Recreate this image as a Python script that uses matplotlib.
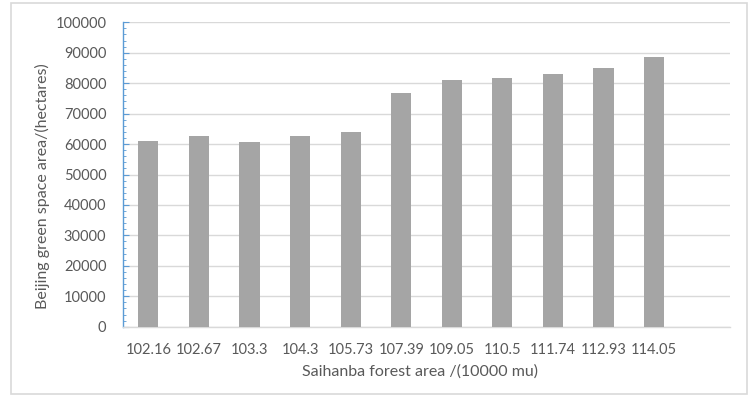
import matplotlib
matplotlib.use("Agg")
import matplotlib.pyplot as plt
from matplotlib.patches import Rectangle
from matplotlib.ticker import MultipleLocator

# Saihanba forest area (10000 mu) vs Beijing green space area (hectares)
forest_area = ["102.16", "102.67", "103.3", "104.3", "105.73", "107.39",
               "109.05", "110.5", "111.74", "112.93", "114.05"]
green_space = [61100, 62550, 60800, 62550, 63850, 76900,
               80950, 81800, 83100, 84900, 88500]
y_ticks = [0, 10000, 20000, 30000, 40000, 50000, 60000, 70000, 80000, 90000, 100000]

plt.rcParams["font.family"] = ["Lato", "DejaVu Sans"]
text_color = "#595959"

fig = plt.figure(figsize=(7.49, 3.96), dpi=100)
fig.patches.append(Rectangle((11 / 749, 2 / 396), 736 / 749, 391 / 396,
                             transform=fig.transFigure, fill=False,
                             edgecolor="#d9d9d9", linewidth=1.2))

ax = fig.add_axes([123 / 749, (396 - 326.7) / 396, 607 / 749, 304.4 / 396])
x = list(range(len(forest_area)))
ax.bar(x, green_space, width=0.40, color="#a5a5a5", zorder=3)

ax.set_xlim(-0.5, 11.5)
ax.set_ylim(0, 100000)
ax.set_xticks(x)
ax.set_xticklabels(forest_area)
ax.set_yticks(y_ticks)
ax.set_yticklabels([str(v) for v in y_ticks])
ax.yaxis.set_minor_locator(MultipleLocator(2000))

ax.grid(axis="y", color="#d9d9d9", linewidth=1.0, zorder=0)
for side in ("top", "right"):
    ax.spines[side].set_visible(False)
ax.spines["bottom"].set_color("#d9d9d9")
ax.spines["bottom"].set_linewidth(1.0)
ax.spines["left"].set_color("#5b9bd5")
ax.spines["left"].set_linewidth(1.0)

ax.tick_params(axis="x", length=0, pad=12, labelsize=10.5, labelcolor=text_color)
ax.tick_params(axis="y", which="major", direction="in", length=4, color="#5b9bd5",
               pad=12, labelsize=10.5, labelcolor=text_color)
ax.tick_params(axis="y", which="minor", direction="in", length=2.5, color="#5b9bd5")

fig.text(420 / 749, 1 - 372 / 396, "Saihanba forest area /(10000 mu)",
         ha="center", va="center", fontsize=11.5, color=text_color)
fig.text(42 / 749, 1 - 186 / 396, "Beijing green space area/(hectares)",
         ha="center", va="center", rotation=90, fontsize=11.5, color=text_color)

fig.savefig("out.png", dpi=100)
